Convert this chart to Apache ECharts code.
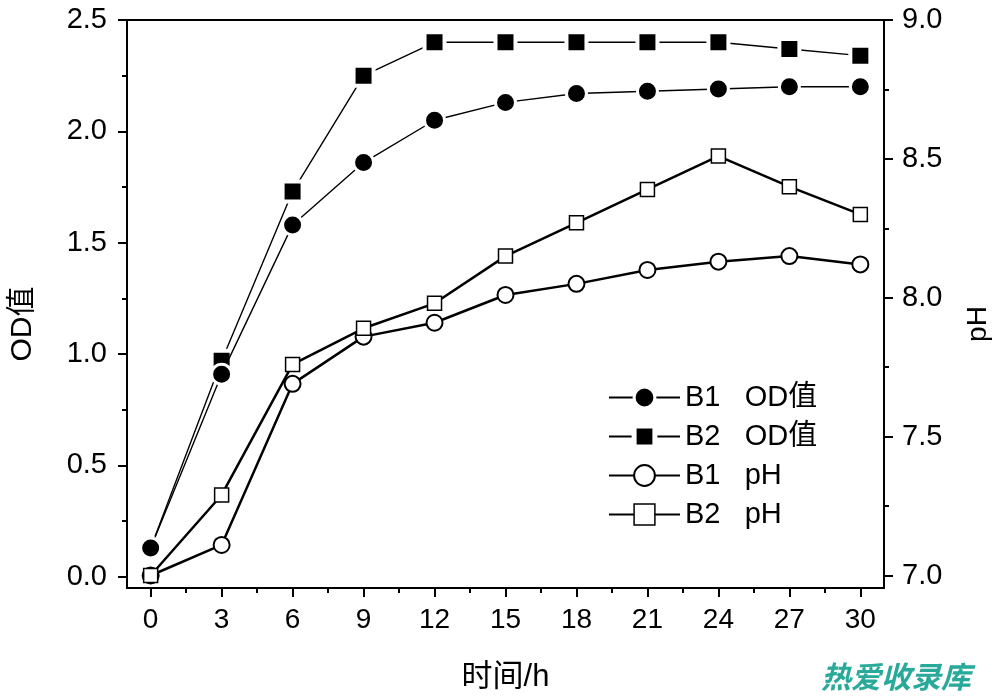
<!DOCTYPE html>
<html>
<head>
<meta charset="utf-8">
<script src="https://cdn.jsdelivr.net/npm/echarts@6/dist/echarts.min.js"></script>
<style>
html,body{margin:0;padding:0;background:#fff;}
#chart{width:1000px;height:699px;}
</style>
</head>
<body>
<div id="chart"></div>
<script>
// ---- data ----
const hours = [0, 3, 6, 9, 12, 15, 18, 21, 24, 27, 30];
const b1OD = [0.13, 0.91, 1.58, 1.86, 2.05, 2.13, 2.17, 2.18, 2.19, 2.20, 2.20];
const b2OD = [0.13, 0.97, 1.73, 2.25, 2.40, 2.40, 2.40, 2.40, 2.40, 2.37, 2.34];
const b1pH = [7.00, 7.11, 7.69, 7.86, 7.91, 8.01, 8.05, 8.10, 8.13, 8.15, 8.12];
const b2pH = [7.00, 7.29, 7.76, 7.89, 7.98, 8.15, 8.27, 8.39, 8.51, 8.40, 8.30];
const seriesNames = ['B1   OD值', 'B2   OD值', 'B1   pH', 'B2   pH'];
const xTicks = [0, 3, 6, 9, 12, 15, 18, 21, 24, 27, 30];
const odTicks = [0.0, 0.5, 1.0, 1.5, 2.0, 2.5];
const phTicks = [7.0, 7.5, 8.0, 8.5, 9.0];

function mids(t) { const r = []; for (let i = 0; i < t.length - 1; i++) r.push((t[i] + t[i + 1]) / 2); return r; }
function pairs(ys) { return hours.map((h, i) => [h, ys[i]]); }

const FONT = 'Arial, "Liberation Sans", "Noto Sans CJK SC", sans-serif';
const black = '#000';

const chart = echarts.init(document.getElementById('chart'), null, { renderer: 'canvas' });

function majorAxis(extra) {
  return Object.assign({
    type: 'value',
    axisLine: { show: true, onZero: false, lineStyle: { color: black, width: 2 } },
    splitLine: { show: false }
  }, extra);
}
function minorAxis(extra) {
  return Object.assign({
    type: 'value',
    axisLine: { show: false, onZero: false },
    axisLabel: { show: false },
    splitLine: { show: false }
  }, extra);
}

const option = {
  animation: false,
  backgroundColor: '#fff',
  grid: { left: 123, right: 113, top: 20, bottom: 111, show: true, borderColor: black, borderWidth: 2, containLabel: false },
  xAxis: [
    majorAxis({
      min: -1, max: 31, position: 'bottom',
      name: '时间/h', nameLocation: 'middle', nameGap: 74,
      nameTextStyle: { color: black, fontSize: 31, fontFamily: FONT },
      axisTick: { show: true, inside: false, length: 9, customValues: xTicks, lineStyle: { color: black, width: 2 } },
      axisLabel: { color: black, fontSize: 28, fontFamily: FONT, margin: 18, customValues: xTicks, formatter: v => String(v) }
    }),
    minorAxis({
      min: -1, max: 31, position: 'bottom',
      axisTick: { show: true, inside: false, length: 5, customValues: mids(xTicks), lineStyle: { color: black, width: 2 } }
    })
  ],
  yAxis: [
    majorAxis({
      min: -0.05, max: 2.5, position: 'left',
      name: 'OD值', nameLocation: 'middle', nameGap: 89, nameRotate: 90,
      nameTextStyle: { color: black, fontSize: 30, fontFamily: FONT, padding: [0, 40, 0, 0] },
      axisTick: { show: true, inside: false, length: 9, customValues: odTicks, lineStyle: { color: black, width: 2 } },
      axisLabel: { color: black, fontSize: 29, fontFamily: FONT, margin: 20, customValues: odTicks, formatter: v => v.toFixed(1) }
    }),
    majorAxis({
      min: 6.955, max: 9.0, position: 'right',
      name: 'pH', nameLocation: 'middle', nameGap: 80, nameRotate: 90,
      nameTextStyle: { color: black, fontSize: 28, fontFamily: FONT, padding: [0, 40, 0, 0] },
      axisTick: { show: true, inside: false, length: 9, customValues: phTicks, lineStyle: { color: black, width: 2 } },
      axisLabel: { color: black, fontSize: 29, fontFamily: FONT, margin: 18, customValues: phTicks, formatter: v => v.toFixed(1) }
    }),
    minorAxis({
      min: -0.05, max: 2.5, position: 'left',
      axisTick: { show: true, inside: false, length: 5, customValues: mids(odTicks), lineStyle: { color: black, width: 2 } }
    }),
    minorAxis({
      min: 6.955, max: 9.0, position: 'right',
      axisTick: { show: true, inside: false, length: 5, customValues: mids(phTicks), lineStyle: { color: black, width: 2 } }
    })
  ],
  legend: {
    orient: 'vertical', left: 603, top: 378,
    itemWidth: 71, itemHeight: 26, itemGap: 10,
    textStyle: { color: black, fontSize: 29, lineHeight: 26, fontFamily: FONT },
    selectedMode: false,
    data: [
      { name: seriesNames[0], itemStyle: { borderWidth: 3 } },
      { name: seriesNames[1], itemStyle: { borderWidth: 5 } },
      { name: seriesNames[2] },
      { name: seriesNames[3], itemStyle: { borderWidth: 1.5 } }
    ]
  },
  series: [
    {
      name: seriesNames[2], type: 'line', xAxisIndex: 0, yAxisIndex: 1, data: pairs(b1pH),
      symbol: 'circle', symbolSize: 16, showSymbol: true,
      lineStyle: { color: black, width: 2.5 },
      itemStyle: { color: '#fff', borderColor: black, borderWidth: 2 },
      emphasis: { disabled: true }, z: 2
    },
    {
      name: seriesNames[3], type: 'line', xAxisIndex: 0, yAxisIndex: 1, data: pairs(b2pH),
      symbol: 'rect', symbolSize: 14, showSymbol: true,
      lineStyle: { color: black, width: 2.5 },
      itemStyle: { color: '#fff', borderColor: black, borderWidth: 1.5 },
      emphasis: { disabled: true }, z: 2
    },
    {
      name: seriesNames[1], type: 'line', xAxisIndex: 0, yAxisIndex: 0, data: pairs(b2OD),
      symbol: 'rect', symbolSize: 20, showSymbol: true,
      lineStyle: { color: black, width: 1.4 },
      itemStyle: { color: black, borderColor: '#fff', borderWidth: 4 },
      emphasis: { disabled: true }, z: 3
    },
    {
      name: seriesNames[0], type: 'line', xAxisIndex: 0, yAxisIndex: 0, data: pairs(b1OD),
      symbol: 'circle', symbolSize: 20, showSymbol: true,
      lineStyle: { color: black, width: 1.4 },
      itemStyle: { color: black, borderColor: '#fff', borderWidth: 3 },
      emphasis: { disabled: true }, z: 4
    }
  ],
  graphic: [
    {
      type: 'text', left: 821, top: 662, silent: true,
      style: { text: '热爱收录库', fill: '#29a99a', font: 'italic bold 30px "Noto Sans CJK SC", sans-serif' }
    }
  ]
};
chart.setOption(option);
</script>
</body>
</html>
